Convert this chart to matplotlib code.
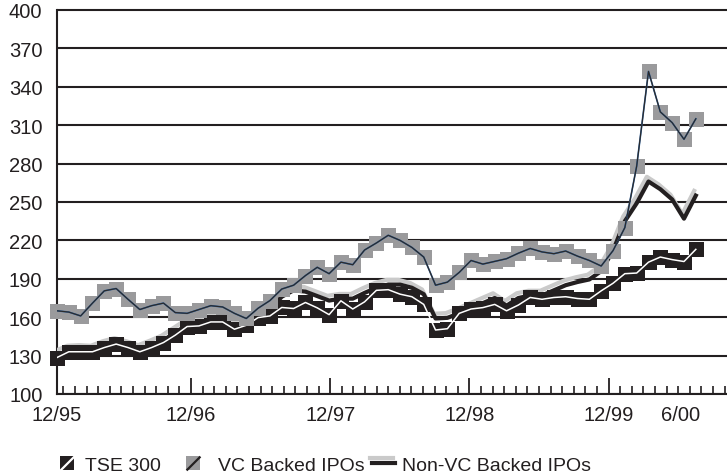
import matplotlib
matplotlib.use("Agg")
import matplotlib.pyplot as plt
import matplotlib.patheffects as pe
from matplotlib.lines import Line2D
from matplotlib.path import Path
from matplotlib.legend_handler import HandlerTuple
import numpy as np

plt.rcParams['font.family'] = ['Liberation Sans', 'DejaVu Sans']

# monthly index values, 12/95 .. 6/00
months = np.arange(55)

tse_300 = [128.5, 133, 133, 133, 136.3, 139, 136.3, 133, 136.3, 140.2,
           146, 152.7, 153.2, 156.3, 156.3, 150.6, 153.7, 159.7, 161, 167.6,
           166.8, 171.5, 167.3, 162, 172.8, 166.4, 172, 181, 181.5, 178,
           176, 170, 150, 151, 163, 166.4, 167.5, 170, 165, 169.5,
           175.4, 174, 175.4, 176, 174.6, 174, 180.6, 186.5, 194, 194.5,
           203, 207, 205, 203.5, 213]

vc_backed = [165, 164, 161, 171, 180.6, 182.4, 174, 166, 169, 171,
             163.6, 163, 166, 169, 168, 163, 159, 167, 173, 182,
             185, 192.5, 199, 194, 203, 201, 212.5, 218, 224, 220,
             214.5, 207, 185, 187.4, 195, 204.3, 201.5, 203.6, 205.7, 210,
             213.7, 211, 209.6, 211.7, 207.7, 204.3, 200, 212, 230, 278,
             352, 320.4, 312, 299, 315]

non_vc_backed = [130, 134, 134.5, 134, 137.5, 140, 137.5, 134.5, 138, 142,
                 148, 154, 155, 157.5, 157.5, 152.5, 155.5, 162, 166, 176,
                 181, 180, 176.5, 173, 174.5, 174.5, 179, 183, 185.5, 185.5,
                 183, 178, 159, 159.5, 163, 167, 171, 175, 169, 175,
                 177, 177, 181, 185, 187.5, 189.5, 196, 212, 235, 249,
                 266, 260, 252, 237, 255]

y_ticks = list(range(100, 401, 30))
x_labels = ['12/95', '12/96', '12/97', '12/98', '12/99', '6/00']

INK = '#231f20'
GREY = '#9a9a9c'
SHADOW = '#cacaca'

W, H = 727, 477
fig = plt.figure(figsize=(W / 100, H / 100), dpi=100)

# plot area in pixels: first month sits on the left axis
left_px, bottom_px, top_px = 57, 395, 8.4
step = 11.83       # pixels per data month
px_per_unit = 1.28
ax = fig.add_axes([left_px / W, 1 - bottom_px / H, 1 - left_px / W,
                   (bottom_px - top_px) / H])
ax.set_xlim(0, (W - left_px) / step)
ax.set_ylim(100, 100 + (bottom_px - top_px) / px_per_unit)


def px_to_x(px):
    return (px - left_px) / step


# horizontal grid
ax.set_yticks(y_ticks)
ax.yaxis.grid(True, color=INK, lw=1.5)
ax.set_axisbelow(True)
ax.tick_params(axis='y', length=0, pad=10.5, labelsize=14.5, labelcolor=INK)

for s in ('top', 'right'):
    ax.spines[s].set_visible(False)
ax.spines['left'].set_bounds(100, 400)
for s in ('left', 'bottom'):
    ax.spines[s].set_linewidth(1.5)
    ax.spines[s].set_color(INK)

# x ticks: month marks, taller marks at each December
label_px = [57, 191, 330.2, 469.4, 608.6, 681]
ax.set_xticks([px_to_x(p) for p in label_px])
ax.set_xticklabels(x_labels)
minor_px = [191 + 11.6 * j for j in range(-11, 47) if j % 12 != 0]
ax.set_xticks([px_to_x(p) for p in minor_px], minor=True)
ax.tick_params(axis='x', which='major', direction='in', length=11.5, width=1.3,
               color=INK, pad=8, labelsize=14.5, labelcolor=INK)
ax.tick_params(axis='x', which='minor', direction='in', length=5.8, width=1.2,
               color=INK)
ticks = ax.xaxis.get_major_ticks()
ticks[0].tick1line.set_visible(False)
ticks[-1].tick1line.set_visible(False)

shadow = [pe.SimpleLineShadow(offset=(-1.2, 3.4), shadow_color=SHADOW, alpha=1, rho=1),
          pe.Normal()]

# Non-VC backed IPOs: thick black line with light shadow
ax.plot(months, non_vc_backed, color=INK, lw=3, zorder=3, path_effects=shadow)

# TSE 300: black squares with a thin white line
ax.plot(months, tse_300, ls='none', marker='s', ms=10.8, mfc=INK, mec=INK, mew=0,
        zorder=4, clip_on=False)
ax.plot(months, tse_300, color='white', lw=1.1, zorder=5)

# VC backed IPOs: grey squares with a thin dark line
ax.plot(months, vc_backed, ls='none', marker='s', ms=10.8, mfc=GREY, mec=GREY, mew=0,
        zorder=6, clip_on=False)
ax.plot(months, vc_backed, color='#2c5f9e', lw=1.2, zorder=7)
ax.plot(months, vc_backed, color='#2a2a2a', lw=0.85, zorder=8)

# legend, one entry at a time along the bottom
diag = Path([(-1, -1), (1, 1)], [Path.MOVETO, Path.LINETO])
h_tse = (Line2D([], [], ls='none', marker='s', ms=10, mfc=INK, mec=INK, mew=0),
         Line2D([], [], ls='none', marker=diag, ms=10, mec='white', mew=1.6))
h_vc = (Line2D([], [], ls='none', marker='s', ms=10, mfc=GREY, mec=GREY, mew=0),
        Line2D([], [], ls='none', marker=diag, ms=10, mec=INK, mew=1.6))
h_non = Line2D([], [], color=INK, lw=3, path_effects=shadow)

entries = [(h_tse, 'TSE 300', 59, 0.82, 0.52),
           (h_vc, 'VC Backed IPOs', 185, 0.82, 0.87),
           (h_non, 'Non-VC Backed IPOs', 372, 1.17, 0.36)]
for handle, label, x0, hl, tp in entries:
    fig.legend([handle], [label], loc='center left',
               bbox_to_anchor=(x0 / W, 1 - 466 / H), frameon=False,
               borderpad=0, borderaxespad=0, handlelength=hl, handletextpad=tp,
               fontsize=14, labelcolor=INK,
               handler_map={tuple: HandlerTuple(ndivide=1)})

fig.savefig('out.png', dpi=100)
